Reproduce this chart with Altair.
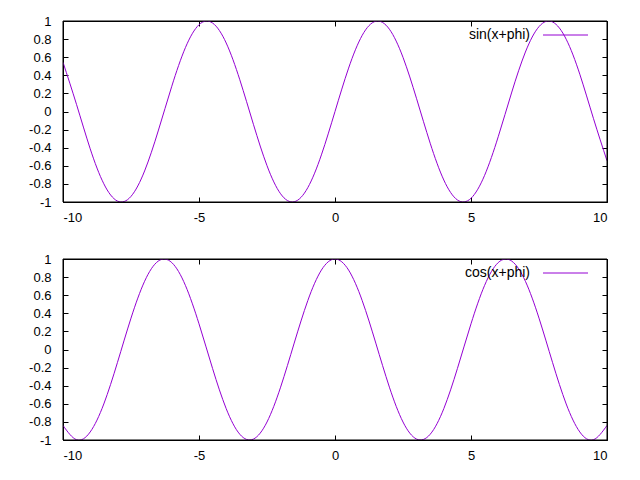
import altair as alt
import pandas as pd

X_VALUES = [-10, -9.5, -9, -8.5, -8, -7.5, -7, -6.5, -6, -5.5, -5, -4.5, -4, -3.5, -3,
            -2.5, -2, -1.5, -1, -0.5, 0, 0.5, 1, 1.5, 2, 2.5, 3, 3.5, 4, 4.5, 5, 5.5,
            6, 6.5, 7, 7.5, 8, 8.5, 9, 9.5, 10]
SIN_VALUES = [0.5440, 0.0752, -0.4121, -0.7985, -0.9894, -0.9380, -0.6570, -0.2151, 0.2794,
              0.7055, 0.9589, 0.9775, 0.7568, 0.3508, -0.1411, -0.5985, -0.9093, -0.9975,
              -0.8415, -0.4794, 0.0, 0.4794, 0.8415, 0.9975, 0.9093, 0.5985, 0.1411,
              -0.3508, -0.7568, -0.9775, -0.9589, -0.7055, -0.2794, 0.2151, 0.6570,
              0.9380, 0.9894, 0.7985, 0.4121, -0.0752, -0.5440]
COS_VALUES = [-0.8391, -0.9972, -0.9111, -0.6020, -0.1455, 0.3466, 0.7539, 0.9766, 0.9602,
              0.7087, 0.2837, -0.2108, -0.6536, -0.9365, -0.9900, -0.8011, -0.4161, 0.0707,
              0.5403, 0.8776, 1.0, 0.8776, 0.5403, 0.0707, -0.4161, -0.8011, -0.9900,
              -0.9365, -0.6536, -0.2108, 0.2837, 0.7087, 0.9602, 0.9766, 0.7539, 0.3466,
              -0.1455, -0.6020, -0.9111, -0.9972, -0.8391]
X_TICKS = [-10, -5, 0, 5, 10]
Y_TICKS = [-1, -0.8, -0.6, -0.4, -0.2, 0, 0.2, 0.4, 0.6, 0.8, 1]
TITLES = ["sin(x+phi)", "cos(x+phi)"]

COLOR = "#9400d3"
FONT = "Liberation Sans"
FS = 13
W, H = 544, 181
TICK = 5


def panel(values, title):
    df = pd.DataFrame({"x": X_VALUES, "y": values})
    xs = alt.Scale(domain=[-10, 10], nice=False, zero=False)
    ys = alt.Scale(domain=[-1, 1], nice=False, zero=False)
    base = alt.Chart(df)
    main = base.mark_line(color=COLOR, strokeWidth=1, interpolate="natural", clip=True).encode(
        x=alt.X("x:Q", scale=xs, title=None,
                axis=alt.Axis(orient="bottom", values=X_TICKS, offset=-TICK, tickSize=TICK,
                              domain=False, grid=False, labelPadding=9,
                              labelFont=FONT, labelFontSize=FS, labelColor="black",
                              tickColor="black", labelExpr="'' + datum.value")),
        y=alt.Y("y:Q", scale=ys, title=None,
                axis=alt.Axis(orient="left", values=Y_TICKS, offset=-TICK, tickSize=TICK,
                              domain=False, grid=False, labelPadding=12,
                              labelFont=FONT, labelFontSize=FS, labelColor="black",
                              tickColor="black", labelExpr="'' + datum.value")),
    )
    mirror = base.mark_line(strokeOpacity=0).encode(
        x=alt.X("x:Q", scale=xs, title=None,
                axis=alt.Axis(orient="top", values=X_TICKS, offset=-TICK, tickSize=TICK,
                              domain=False, grid=False, labels=False, tickColor="black")),
        y=alt.Y("y:Q", scale=ys, title=None,
                axis=alt.Axis(orient="right", values=Y_TICKS, offset=-TICK, tickSize=TICK,
                              domain=False, grid=False, labels=False, tickColor="black")),
    )
    one = pd.DataFrame({"t": [title]})
    edge = alt.Chart(one).mark_rule(color="black", strokeWidth=1)
    frame = [
        edge.encode(x=alt.value(0), x2=alt.value(W), y=alt.value(0)),
        edge.encode(x=alt.value(0), x2=alt.value(W), y=alt.value(H)),
        edge.encode(x=alt.value(0), y=alt.value(0), y2=alt.value(H)),
        edge.encode(x=alt.value(W), y=alt.value(0), y2=alt.value(H)),
    ]
    lab = alt.Chart(one).mark_text(
        align="right", baseline="middle", font=FONT, fontSize=FS + 1, color="black"
    ).encode(text="t:N", x=alt.value(467), y=alt.value(14))
    key = alt.Chart(one).mark_rule(color=COLOR, strokeWidth=1).encode(
        x=alt.value(480), x2=alt.value(525), y=alt.value(14))
    return alt.layer(main, mirror, *frame, lab, key).resolve_axis(
        x="independent", y="independent").properties(width=W, height=H)


chart = alt.vconcat(panel(SIN_VALUES, TITLES[0]), panel(COS_VALUES, TITLES[1]), spacing=27).properties(
    padding={"left": 20, "top": 6, "right": 5, "bottom": 5},
    background="white",
).configure_view(stroke="black", strokeWidth=1)

chart.save("out.html", embed_options={"renderer": "svg", "actions": False})
